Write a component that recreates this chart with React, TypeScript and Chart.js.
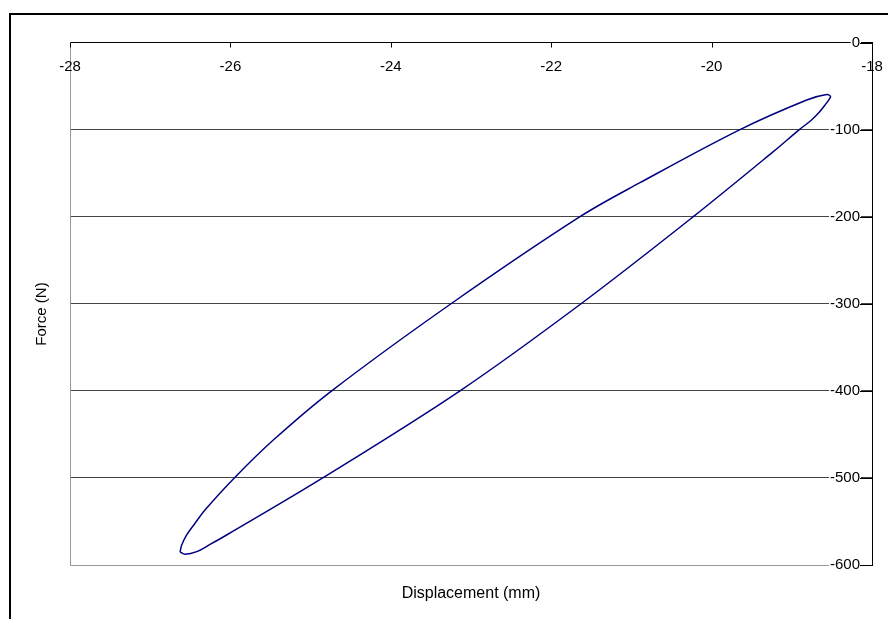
import React, { useEffect, useRef } from "react";
import { Chart, registerables } from "chart.js";

Chart.register(...registerables);

// Hysteresis loop (Displacement in mm, Force in N).
// It starts and ends at the lower-left tip of the loop.
const loopX: number[] = [
  -26.628,
  -26.566, -26.42, -26.254, -26.026, -24.849, -23.137, -21.628, -20.228, -19.231,
  -18.906, -18.761, -18.661, -18.586, -18.536, -18.517,
  -18.565, -18.814, -19.646, -20.893, -21.641, -23.249, -24.737, -25.465, -25.951,
  -26.317, -26.441, -26.545, -26.607, -26.628,
];
const loopY: number[] = [
  -585.1,
  -587.7, -584.7, -576.4, -564.4, -500, -400, -300, -200, -125.4,
  -100, -89.6, -80.4, -71.8, -65.5, -62.0,
  -59.7, -66.0, -100, -161.0, -200, -300, -400, -456.5, -500,
  -536.8, -552.1, -565.5, -577.0, -585.1,
];

const xMin = -28;
const xMax = -18;
const xStep = 2;
const yMin = -600;
const yMax = 0;
const yStep = 100;

const xTitle = "Displacement (mm)";
const yTitle = "Force (N)";

const FONT = "'Liberation Sans', Arial, sans-serif";
const LINE_COLOR = "#000080";

export default function App() {
  const ref = useRef<HTMLCanvasElement | null>(null);

  useEffect(() => {
    document.body.style.margin = "0";
    const canvas = ref.current;
    if (!canvas) return;

    const points = loopX.map((x, i) => ({ x, y: loopY[i] }));

    const decor = {
      id: "decor",
      afterDraw(chart: any) {
        const ctx = chart.ctx;
        const xs = chart.scales.x;
        const ys = chart.scales.y;
        const area = chart.chartArea;
        ctx.save();
        // inside tick marks
        ctx.strokeStyle = "#000";
        ctx.lineWidth = 1;
        ctx.beginPath();
        xs.ticks.forEach((t: any) => {
          const px = Math.round(xs.getPixelForValue(t.value)) + 0.5;
          ctx.moveTo(px, area.top);
          ctx.lineTo(px, area.top + 5);
        });
        ys.ticks.forEach((t: any) => {
          const py = Math.round(ys.getPixelForValue(t.value)) + 0.5;
          ctx.moveTo(area.right - 12, py);
          ctx.lineTo(area.right, py);
        });
        ctx.stroke();
        // x tick labels, inside the plot below the top axis
        ctx.fillStyle = "#000";
        ctx.font = `15px ${FONT}`;
        ctx.textAlign = "center";
        ctx.textBaseline = "alphabetic";
        xs.ticks.forEach((t: any) => {
          const px = xs.getPixelForValue(t.value);
          ctx.fillText(String(t.label), px, area.top + 28);
        });
        // y axis title
        ctx.save();
        ctx.translate(42, 314);
        ctx.rotate(-Math.PI / 2);
        ctx.textBaseline = "middle";
        ctx.fillText(yTitle, 0, 0);
        ctx.restore();
        // outer chart border
        ctx.lineWidth = 2;
        ctx.strokeRect(10, 14, 1000, 1000);
        ctx.restore();
      },
    };

    const chart = new Chart(canvas, {
      type: "scatter",
      data: {
        datasets: [
          {
            data: points,
            showLine: true,
            borderColor: LINE_COLOR,
            borderWidth: 1.5,
            pointRadius: 0,
            tension: 0.35,
            fill: false,
          },
        ],
      },
      options: {
        animation: false,
        responsive: false,
        devicePixelRatio: 1,
        layout: { padding: 0 },
        plugins: {
          legend: { display: false },
          tooltip: { enabled: false },
        },
        scales: {
          x: {
            type: "linear",
            position: "top",
            min: xMin,
            max: xMax,
            ticks: { stepSize: xStep, display: false, autoSkip: false },
            grid: { display: false, drawTicks: false },
            border: { display: true, color: "#000", width: 1 },
            afterFit: (s: any) => {
              s.height = 42.5;
            },
          },
          x2: {
            type: "linear",
            position: "bottom",
            min: xMin,
            max: xMax,
            ticks: { display: false },
            grid: { display: false, drawTicks: false },
            border: { display: true, color: "#999", width: 1 },
            title: {
              display: true,
              text: xTitle,
              color: "#000",
              font: { family: FONT, size: 16 },
              padding: { top: 0, bottom: 15.4 },
            },
            afterFit: (s: any) => {
              s.height = 54;
            },
          },
          y: {
            type: "linear",
            position: "right",
            min: yMin,
            max: yMax,
            ticks: {
              stepSize: yStep,
              color: "#000",
              font: { family: FONT, size: 15 },
              mirror: true,
              padding: -12,
              showLabelBackdrop: true,
              backdropColor: "#fff",
              backdropPadding: 1,
            },
            grid: {
              drawTicks: false,
              lineWidth: 1,
              color: (c: any) => (c.tick && c.tick.value === yMin ? "#999" : "#444"),
            },
            border: { display: true, color: "#000", width: 1 },
            afterFit: (s: any) => {
              s.width = 16;
            },
          },
          y2: {
            type: "linear",
            position: "left",
            min: yMin,
            max: yMax,
            ticks: { display: false },
            grid: { display: false, drawTicks: false },
            border: { display: true, color: "#999", width: 1 },
            afterFit: (s: any) => {
              s.width = 70;
            },
          },
        },
      },
      plugins: [decor],
    } as any);

    return () => chart.destroy();
  }, []);

  return (
    <div style={{ width: 888, height: 619, background: "#fff" }}>
      <canvas ref={ref} width={888} height={619} />
    </div>
  );
}
